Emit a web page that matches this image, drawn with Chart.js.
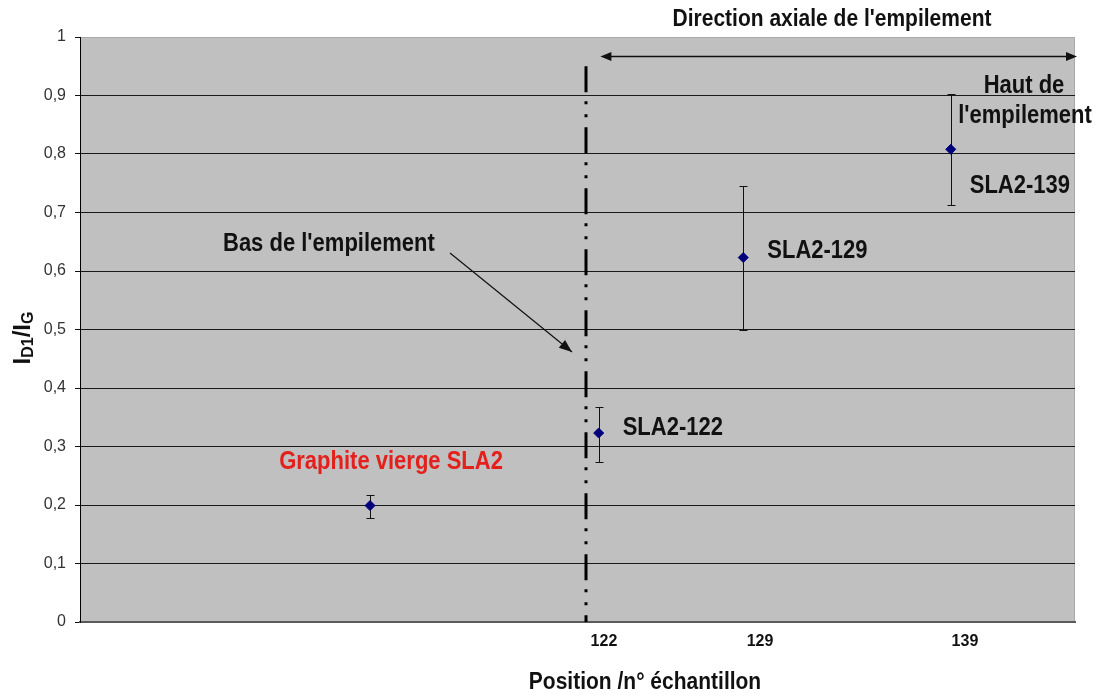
<!DOCTYPE html>
<html>
<head>
<meta charset="utf-8">
<script src="https://cdn.jsdelivr.net/npm/chart.js@4.4.1/dist/chart.umd.min.js"></script>
<style>
  html, body { margin: 0; padding: 0; background: #fff; }
  canvas { display: block; }
</style>
</head>
<body>
<canvas id="ramanChart" width="1097" height="697"></canvas>
<script>
// samples, position along the stack and I_D1/I_G ratio with its min / max
const sampleNames = ["Graphite vierge SLA2", "SLA2-122", "SLA2-129", "SLA2-139"];
const positions = [29.15, 52.13, 66.66, 87.51];
const ratios = [0.199, 0.323, 0.623, 0.808];
const ratioLow = [0.178, 0.274, 0.5, 0.712];
const ratioHigh = [0.217, 0.368, 0.745, 0.903];

// sample numbers written under the x axis
const tickPositions = [52.66, 68.34, 88.94];
const tickLabels = ["122", "129", "139"];

// bottom of the stack (dash-dot line) and the axial direction arrow
const stackBottom = 50.85;
const stackLineTop = 0.95;
const arrowStart = 52.3;
const arrowLevel = 0.968;

const FONT = "'Liberation Sans', Arial, sans-serif";

// label placement next to each point: [dx, dy, align, colour]
const nameStyle = [
  [21, -43, "center", "#e3201b"],
  [24, -5, "left", "#111"],
  [24, -6, "left", "#111"],
  [19, 37, "left", "#111"],
];

function drawArrowHead(ctx, x0, y0, x1, y1, len, half) {
  const a = Math.atan2(y1 - y0, x1 - x0);
  ctx.beginPath();
  ctx.moveTo(x1, y1);
  ctx.lineTo(x1 - len * Math.cos(a) + half * Math.sin(a), y1 - len * Math.sin(a) - half * Math.cos(a));
  ctx.lineTo(x1 - len * Math.cos(a) - half * Math.sin(a), y1 - len * Math.sin(a) + half * Math.cos(a));
  ctx.closePath();
  ctx.fill();
}

// text a little taller than the font's own proportions
function fillTall(ctx, text, x, y, stretch) {
  ctx.save();
  ctx.translate(x, y);
  ctx.scale(1, stretch || 1.14);
  ctx.fillText(text, 0, 0);
  ctx.restore();
}

// grey plot background
const plotBackground = {
  id: "plotBackground",
  beforeDraw(chart) {
    const { ctx, chartArea: a } = chart;
    ctx.save();
    ctx.fillStyle = "#c0c0c0";
    ctx.fillRect(a.left, a.top, a.right - a.left, a.bottom - a.top);
    ctx.strokeStyle = "#a9a9a9";
    ctx.lineWidth = 1;
    ctx.beginPath();
    ctx.moveTo(a.left, a.top + 0.5);
    ctx.lineTo(a.right - 0.5, a.top + 0.5);
    ctx.lineTo(a.right - 0.5, a.bottom);
    ctx.stroke();
    ctx.restore();
  },
};

// min / max bars and the dash-dot line marking the bottom of the stack
const errorBars = {
  id: "errorBars",
  beforeDatasetsDraw(chart) {
    const { ctx, scales: { x, y } } = chart;
    ctx.save();

    const lx = Math.round(x.getPixelForValue(stackBottom));
    ctx.strokeStyle = "#000";
    ctx.lineWidth = 3;
    ctx.setLineDash([26, 9, 3, 10, 3, 10]);
    ctx.beginPath();
    ctx.moveTo(lx, y.getPixelForValue(stackLineTop));
    ctx.lineTo(lx, y.getPixelForValue(0));
    ctx.stroke();
    ctx.setLineDash([]);

    ctx.lineWidth = 1;
    ctx.strokeStyle = "#111";
    positions.forEach((p, i) => {
      const px = Math.round(x.getPixelForValue(p)) + 0.5;
      const top = Math.round(y.getPixelForValue(ratioHigh[i])) + 0.5;
      const bot = Math.round(y.getPixelForValue(ratioLow[i])) + 0.5;
      ctx.beginPath();
      ctx.moveTo(px, top);
      ctx.lineTo(px, bot);
      ctx.moveTo(px - 4, top);
      ctx.lineTo(px + 4, top);
      ctx.moveTo(px - 4, bot);
      ctx.lineTo(px + 4, bot);
      ctx.stroke();
    });
    ctx.restore();
  },
};

// titles, sample names and arrows
const annotations = {
  id: "annotations",
  afterDraw(chart) {
    const { ctx, chartArea: a, scales: { x, y } } = chart;
    ctx.save();
    ctx.textBaseline = "middle";

    ctx.font = "bold 22px " + FONT;
    positions.forEach((p, i) => {
      const [dx, dy, align, color] = nameStyle[i];
      ctx.fillStyle = color;
      ctx.textAlign = align;
      fillTall(ctx, sampleNames[i], x.getPixelForValue(p) + dx, y.getPixelForValue(ratios[i]) + dy);
    });

    ctx.fillStyle = "#111";
    ctx.textAlign = "center";
    fillTall(ctx, "Haut de", 1024, 86);
    fillTall(ctx, "l'empilement", 1025, 116);
    ctx.textAlign = "left";
    fillTall(ctx, "Bas de l'empilement", 223, 244);

    ctx.font = "bold 21px " + FONT;
    ctx.textAlign = "center";
    fillTall(ctx, "Direction axiale de l'empilement", 832, 19);
    fillTall(ctx, "Position /n\u00b0 \u00e9chantillon", 645, 682);

    // arrow pointing at the bottom of the stack
    ctx.strokeStyle = "#111";
    ctx.fillStyle = "#111";
    ctx.lineWidth = 1.2;
    ctx.beginPath();
    ctx.moveTo(450, 253);
    ctx.lineTo(572, 352);
    ctx.stroke();
    drawArrowHead(ctx, 450, 253, 572, 352, 13, 5);

    // double arrow for the axial direction
    const ay = Math.round(y.getPixelForValue(arrowLevel)) + 0.5;
    const ax0 = x.getPixelForValue(arrowStart);
    const ax1 = a.right + 2;
    ctx.lineWidth = 1.3;
    ctx.beginPath();
    ctx.moveTo(ax0 + 6, ay);
    ctx.lineTo(ax1 - 6, ay);
    ctx.stroke();
    drawArrowHead(ctx, ax1, ay, ax0, ay, 11, 4.5);
    drawArrowHead(ctx, ax0, ay, ax1, ay, 11, 4.5);

    // y axis title I_D1 / I_G
    ctx.translate(23, 338);
    ctx.rotate(-Math.PI / 2);
    const parts = [["I", 24, 0], ["D1", 16, 6], ["/I", 24, 0], ["G", 16, 6]];
    let total = 0;
    parts.forEach(([t, s]) => { ctx.font = "bold " + s + "px " + FONT; total += ctx.measureText(t).width; });
    let cx = -total / 2;
    ctx.textAlign = "left";
    ctx.textBaseline = "middle";
    ctx.fillStyle = "#111";
    parts.forEach(([t, s, off]) => {
      ctx.font = "bold " + s + "px " + FONT;
      ctx.fillText(t, cx, off);
      cx += ctx.measureText(t).width;
    });
    ctx.restore();
  },
};

const ctx = document.getElementById("ramanChart").getContext("2d");
const ramanChart = new Chart(ctx, {
  type: "scatter",
  data: {
    labels: sampleNames,
    datasets: [
      {
        data: positions.map((p, i) => ({ x: p, y: ratios[i] })),
        pointStyle: "rectRot",
        pointRadius: 5,
        backgroundColor: "#00007a",
        borderColor: "#00007a",
        borderWidth: 1,
      },
    ],
  },
  options: {
    responsive: false,
    animation: false,
    layout: { padding: { left: 0, right: 22, top: 37, bottom: 0 } },
    plugins: { legend: { display: false }, tooltip: { enabled: false } },
    scales: {
      x: {
        type: "linear",
        min: 0,
        max: 100,
        afterFit: (scale) => { scale.height = 75; },
        afterBuildTicks: (scale) => { scale.ticks = tickPositions.map((v) => ({ value: v })); },
        grid: { display: true, drawOnChartArea: false, drawTicks: false },
        border: { display: true, color: "#5a5a5a", width: 2 },
        ticks: {
          autoSkip: false,
          maxRotation: 0,
          padding: 10,
          color: "#111",
          font: { family: FONT, size: 16, weight: "bold" },
          callback: (v) => tickLabels[tickPositions.indexOf(v)],
        },
      },
      y: {
        min: 0,
        max: 1,
        afterFit: (scale) => { scale.width = 80; },
        grid: {
          color: (c) => (c.tick && c.tick.value >= 1 ? "rgba(0,0,0,0)" : "#1a1a1a"),
          lineWidth: 1,
          tickColor: "#111",
          tickLength: 5,
        },
        border: { display: true, color: "#000", width: 1 },
        ticks: {
          stepSize: 0.1,
          padding: 9,
          color: "#333",
          font: { family: FONT, size: 16 },
          callback: (v) => (v === 0 || v === 1 ? String(v) : v.toFixed(1).replace(".", ",")),
        },
      },
    },
  },
  plugins: [plotBackground, errorBars, annotations],
});
</script>
</body>
</html>
